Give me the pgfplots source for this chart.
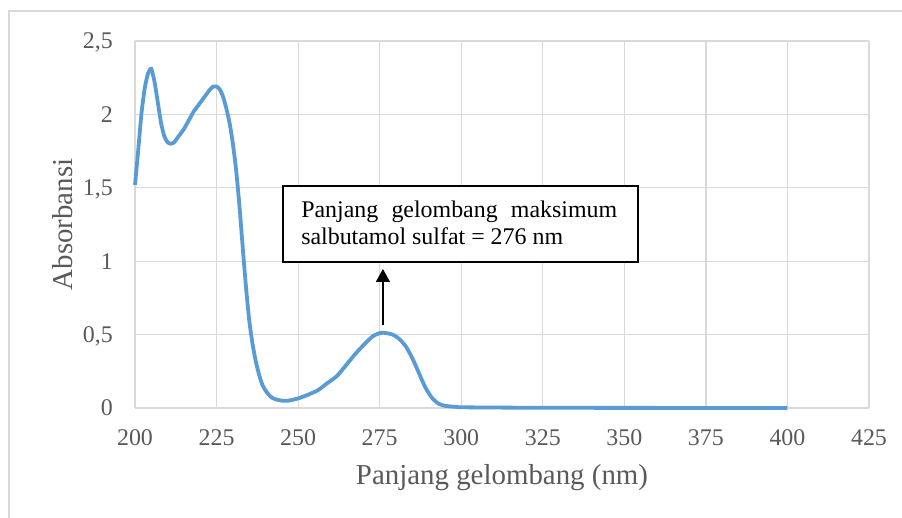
\documentclass[border=0pt]{standalone}
\usepackage{fontspec}
\setmainfont{Liberation Serif}
\usepackage{pgfplots}
\pgfplotsset{compat=1.18}
\usetikzlibrary{arrows.meta}
\definecolor{lineblue}{HTML}{5B9BD5}
\definecolor{gridgray}{HTML}{D9D9D9}
\definecolor{txtgray}{HTML}{595959}
\begin{document}
\begin{tikzpicture}[x=1bp,y=1bp]
\useasboundingbox (0,0) rectangle (902,518);
\draw[color=gridgray, line width=1.2bp] (9,-5) -- (9,507) -- (910,507);
\begin{axis}[
  at={(135bp,110bp)}, anchor=south west,
  width=734bp, height=367bp, scale only axis,
  xmin=200, xmax=425, ymin=0, ymax=2.5,
  xtick={200,225,...,425},
  ytick={0,0.5,1,1.5,2,2.5},
  yticklabels={0,{0,5},1,{1,5},2,{2,5}},
  xticklabels={200,225,250,275,300,325,350,375,400,425},
  grid=major,
  grid style={color=gridgray, line width=1.2bp},
  axis line style={draw=none},
  major tick length=0pt,
  tick style={draw=none},
  xticklabel style={font=\fontsize{24}{24}\selectfont, color=txtgray, anchor=base, inner sep=0pt, yshift=-37.5bp},
  yticklabel style={font=\fontsize{24}{24}\selectfont, color=txtgray, anchor=base east, inner sep=0pt, xshift=-22bp, yshift=-8bp},
  xlabel={Panjang gelombang (nm)},
  ylabel={Absorbansi},
  x label style={font=\fontsize{29}{29}\selectfont, color=txtgray, at={(axis description cs:0.5,0)}, anchor=base, inner sep=0pt, yshift=-77bp},
  y label style={font=\fontsize{29}{29}\selectfont, color=txtgray, at={(axis description cs:0,0.5)}, anchor=base, inner sep=0pt, yshift=63bp},
  clip=false,
]
\addplot[color=lineblue, line width=3.8bp, smooth, tension=0.4] coordinates {
(200,1.52) (201,1.76) (202,2.01) (203,2.18) (204,2.28) (205,2.31) (206,2.22)
(207,2.08) (208,1.94) (209,1.85) (210,1.81) (211,1.80) (212,1.81) (213,1.84)
(214,1.87) (215,1.90) (216,1.94) (217,1.98) (218,2.02) (219,2.05) (220,2.08)
(221,2.11) (222,2.14) (223,2.17) (224,2.19) (225,2.19) (226,2.17) (227,2.12)
(228,2.04) (229,1.94) (230,1.80) (231,1.62) (232,1.38) (233,1.10) (234,0.83)
(235,0.60) (236,0.44) (237,0.32) (238,0.23) (239,0.16) (240,0.12) (241,0.09)
(242,0.07) (243,0.06) (245,0.05) (247,0.05) (250,0.065) (253,0.09) (256,0.12)
(259,0.17) (262,0.22) (265,0.30) (268,0.38) (271,0.45) (273,0.49) (275,0.51)
(276,0.513) (277,0.51) (279,0.50) (281,0.47) (283,0.42) (285,0.34) (287,0.24)
(289,0.14) (291,0.07) (293,0.03) (295,0.015) (298,0.008) (300,0.005) (310,0.003)
(320,0.002) (340,0.001) (400,0.0)
};
\draw[black, line width=1.5bp, fill=white] (axis cs:245.4,0.995) rectangle (axis cs:354.2,1.512);
\node[anchor=base west, inner sep=0pt, font=\fontsize{24}{24}\selectfont] at (axis cs:250.9,1.297) {\makebox[316bp][s]{Panjang gelombang maksimum}};
\node[anchor=base west, inner sep=0pt, font=\fontsize{24}{24}\selectfont] at (axis cs:250.9,1.113) {salbutamol sulfat = 276 nm};
\draw[black, line width=1.3bp, -{Triangle[width=14bp,length=13bp]}] (axis cs:276,0.565) -- (axis cs:276,0.947);
\end{axis}
\end{tikzpicture}
\end{document}
